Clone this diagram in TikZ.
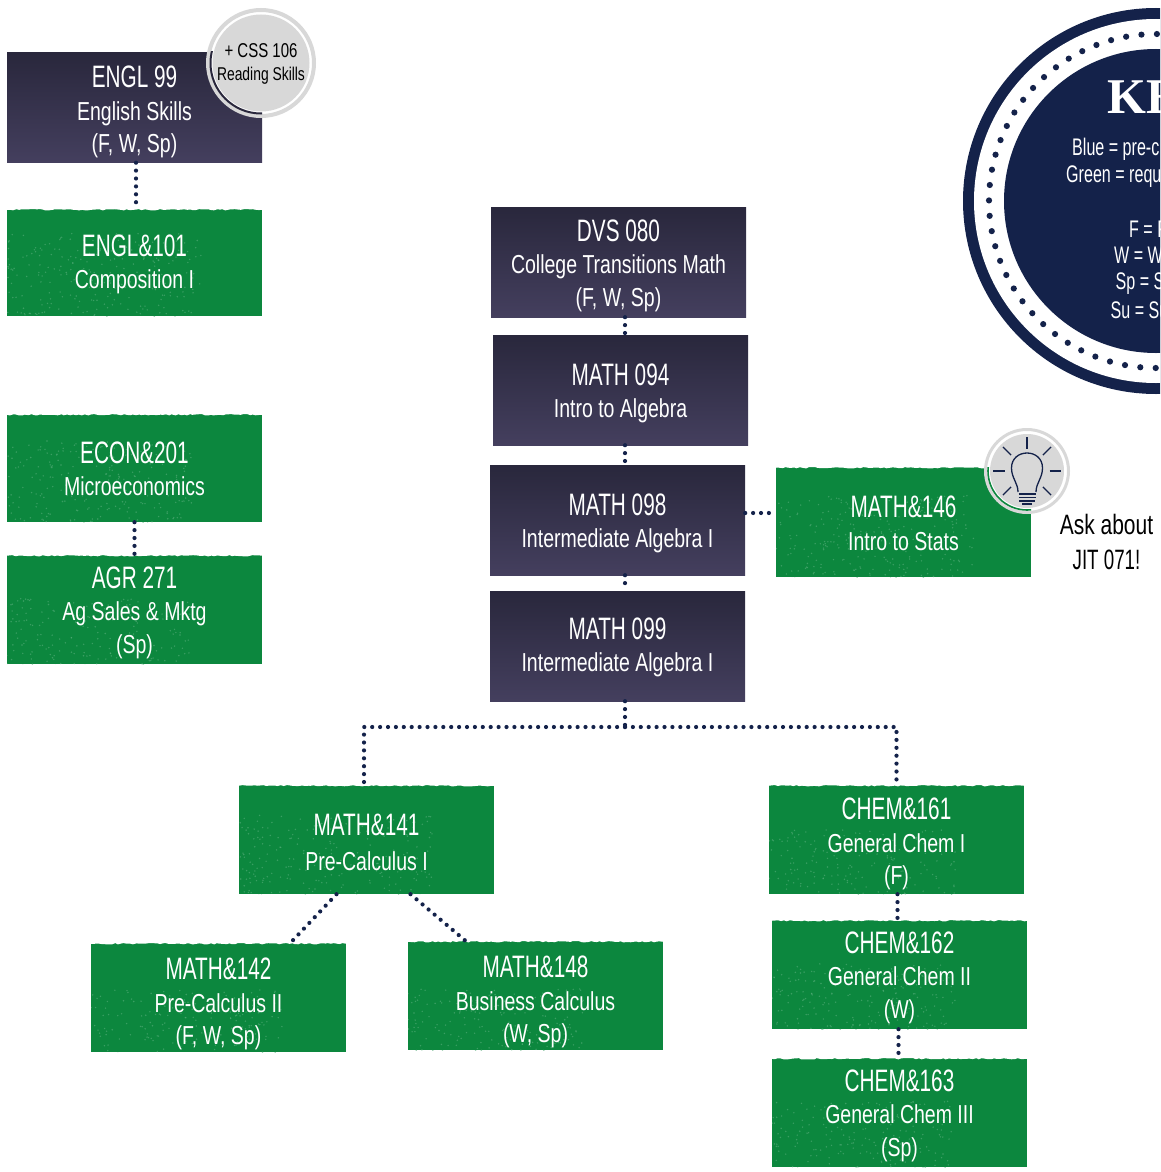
\documentclass[tikz,border=0pt]{standalone}
\usepackage{fontspec}
\setmainfont{Liberation Sans}[FakeStretch=0.75]
\newfontfamily\hdfont{Liberation Sans}[FakeStretch=0.67]
\newfontfamily\keyfont{Liberation Serif}[Scale=1.0]
\usetikzlibrary{decorations.pathmorphing}
\definecolor{navy}{RGB}{20,34,74}
\definecolor{dkbox}{RGB}{41,39,60}
\definecolor{dkboxlow}{RGB}{68,63,94}
\definecolor{grnbox}{RGB}{12,135,62}
\definecolor{speck}{RGB}{90,175,125}
\definecolor{ringgray}{RGB}{216,216,216}
\newcommand{\hd}{\hdfont\fontsize{31}{32.5}\selectfont}
\newcommand{\sbt}{\fontsize{26}{32.5}\selectfont}
% first line strut: pushes the text of a box down by #1 pt
\newcommand{\dn}[1]{\rule{0pt}{\dimexpr 23pt+#1pt+#1pt\relax}}
\newcommand{\keyln}{\hdfont\fontsize{24}{25}\selectfont}
\tikzset{
  coursebox/.style={minimum width=255pt,minimum height=110pt,inner sep=0pt,align=center,text=white,font=\fontsize{26}{32.5}\selectfont},
  darkbox/.style={coursebox,top color=dkbox,bottom color=dkboxlow,shading angle=0},
  greenbox/.style={coursebox,fill=grnbox,path picture={
    \begin{scope}[shift={(path picture bounding box.center)}]
    \foreach \i in {1,...,420}
      \fill[speck,opacity=0.6] (rand*127.5,rand*55) circle (0.8);
    \end{scope}
    \draw[white,line width=1.5,decorate,decoration={random steps,segment length=3,amplitude=0.7}] (path picture bounding box.north west) -- (path picture bounding box.north east);}},
  dotline/.style={navy,line width=4.2,line cap=round,dash pattern=on 0pt off 7.9pt},
}
\begin{document}
\begin{tikzpicture}[x=1pt,y=1pt,yscale=-1,xscale=1]
\useasboundingbox (0,0) rectangle (1160,1172);
\clip (0,0) rectangle (1160,1172);
\pgfmathsetseed{71}

% Course boxes, left column
\node [darkbox] (engl99) at (134.5,107.5) {\dn{4}\hd ENGL 99\\\sbt English Skills\\\sbt (F, W, Sp)};
\node [greenbox,minimum height=107pt] (engl101) at (134.5,262.5) {\dn{1}\hd ENGL\&101\\\sbt Composition I};
\node [greenbox,minimum height=108pt] (econ201) at (134.5,468) {\dn{0}\hd ECON\&201\\\sbt Microeconomics};
\node [greenbox,minimum height=109pt] (agr271) at (134.5,609.5) {\dn{2.5}\hd AGR 271\\\sbt Ag Sales \& Mktg\\\sbt (Sp)};

% Course boxes, middle column
\node [darkbox] (dvs080) at (618.5,262) {\dn{3}\hd DVS 080\\\sbt College Transitions Math\\\sbt (F, W, Sp)};
\node [darkbox] (math094) at (620.5,390) {\dn{2.5}\hd MATH 094\\\sbt Intro to Algebra};
\node [darkbox] (math098) at (617.5,520) {\dn{2.5}\hd MATH 098\\\sbt Intermediate Algebra I};
\node [darkbox] (math099) at (617.5,646) {\dn{0.5}\hd MATH 099\\\sbt Intermediate Algebra I};
\node [greenbox] (math146) at (903.5,522) {\dn{0.5}\hd MATH\&146\\\sbt Intro to Stats};

% Course boxes, lower part
\node [greenbox,minimum height=109pt] (math141) at (366.5,839.5) {\dn{2}\hd MATH\&141\\[2pt]\sbt Pre-Calculus I};
\node [greenbox,minimum height=109pt] (math142) at (218.5,997.5) {\dn{6}\hd MATH\&142\\\sbt Pre-Calculus II\\\sbt (F, W, Sp)};
\node [greenbox,minimum height=109pt] (math148) at (535.5,995.5) {\dn{6}\hd MATH\&148\\\sbt Business Calculus\\\sbt (W, Sp)};
\node [greenbox,minimum height=109pt] (chem161) at (896.5,839.5) {\dn{4}\hd CHEM\&161\\\sbt General Chem I\\\sbt (F)};
\node [greenbox,minimum height=109pt] (chem162) at (899.5,974.5) {\dn{2.5}\hd CHEM\&162\\\sbt General Chem II\\\sbt (W)};
\node [greenbox,minimum height=109pt] (chem163) at (899.5,1112.5) {\dn{2.5}\hd CHEM\&163\\\sbt General Chem III\\\sbt (Sp)};

% Dotted connectors
\coordinate (bus) at (625,727);
\draw [dotline] ([xshift=1.5pt]engl99.south) -- ([xshift=1.5pt]engl101.north);
\draw [dotline] (econ201.south) -- (agr271.north);
\draw [dotline] ([xshift=6.5pt]dvs080.south) -- ([xshift=4.5pt]math094.north);
\draw [dotline] ([xshift=4.5pt]math094.south) -- ([xshift=7.5pt]math098.north);
\draw [dotline] ([xshift=7.5pt]math098.south) -- ([xshift=7.5pt]math099.north);
\draw [dotline] ([yshift=-7pt]math098.east) -- ([yshift=-9pt]math146.west);
\draw [dotline] ([xshift=7.5pt]math099.south) -- (bus);
\draw [dotline] (bus) -| ([xshift=-2.5pt]math141.north);
\draw [dotline] (bus) -| (chem161.north);
\draw [dotline] ([xshift=-30pt]math141.south) -- ([xshift=72pt]math142.north);
\draw [dotline] ([xshift=44pt]math141.south) -- ([xshift=-70pt]math148.north);
\draw [dotline] ([xshift=1pt]chem161.south) -- ([xshift=-2pt]chem162.north);
\draw [dotline] ([xshift=-1pt]chem162.south) -- ([xshift=-1pt]chem163.north);

% Badge over ENGL 99
\node [circle,draw=ringgray,line width=4pt,fill=white,minimum size=106pt,inner sep=0pt] (cssring) at (261,63) {};
\begin{scope}
\clip (7,52) rectangle (262,163);
\draw [dkbox,line width=2pt] (cssring.center) circle (50.5);
\end{scope}
\node [circle,fill=ringgray,minimum size=97pt,inner sep=0pt] (cssdisc) at (261,63) {};
\node [align=center,text=black,inner sep=0pt,font=\fontsize{18.5}{23}\selectfont] (csstxt) at (261,63.5) {\fontsize{20}{23}\selectfont + CSS 106\\\fontsize{18.5}{23}\selectfont Reading Skills};

% Lightbulb badge over MATH&146
\node [circle,draw=ringgray,line width=3pt,fill=white,minimum size=83pt,inner sep=0pt] (bulbring) at (1027,471) {};
\begin{scope}
\clip (776,467) rectangle (1031,577);
\draw [grnbox,line width=1.6pt] (bulbring.center) circle (39);
\end{scope}
\node [circle,fill=ringgray,minimum size=74pt,inner sep=0pt] (bulbdisc) at (1027,471) {};
\begin{scope}[shift={(1027,471)},navy,line width=1.3pt]
\foreach \ang in {-90,-45,-135,0,180,45,135}
  \draw (\ang:22.5) -- (\ang:34);
\draw (-9,21) .. controls (-9,12) and (-15.5,7) .. (-15.5,-3) .. controls (-15.5,-23) and (15.5,-23) .. (15.5,-3) .. controls (15.5,7) and (9,12) .. (9,21);
\draw [line width=1.5pt] (-8.5,23) -- (8.5,23) (-8.5,26.5) -- (8.5,26.5) (-8,30) -- (8,30) (-5,33) -- (5,33);
\end{scope}

% Text Node
\node [align=center,text=black,font=\fontsize{28}{35}\selectfont] (askjit) at (1106.5,542) {Ask about\\\hdfont JIT 071!};

% Key circle
\coordinate (keyc) at (1156,201);
\fill [navy] (keyc) circle (193);
\fill [white] (keyc) circle (182);
\fill [navy] (keyc) circle (152);
\foreach \ang in {0,5.3,...,359}
  \fill [navy] (keyc) ++(\ang:167) circle (3.1);

% Text Node
\node [anchor=west,inner sep=0pt,text=white] (keyttl) at (1107,97) {\keyfont\bfseries\fontsize{50}{50}\selectfont KE};
\node [anchor=west,inner sep=0pt,text=white] (keyblue) at (1072,149) {\keyln Blue = pre-c};
\node [anchor=west,inner sep=0pt,text=white] (keygreen) at (1066,176) {\keyln Green = requi};
\node [anchor=west,inner sep=0pt,text=white] (keyf) at (1129,229) {\keyln F = F};
\node [anchor=west,inner sep=0pt,text=white] (keyw) at (1114,255) {\keyln W = W};
\node [anchor=west,inner sep=0pt,text=white] (keysp) at (1115.5,284) {\keyln Sp = S};
\node [anchor=west,inner sep=0pt,text=white] (keysu) at (1110.5,310) {\keyln Su = Su};

\end{tikzpicture}
\end{document}
